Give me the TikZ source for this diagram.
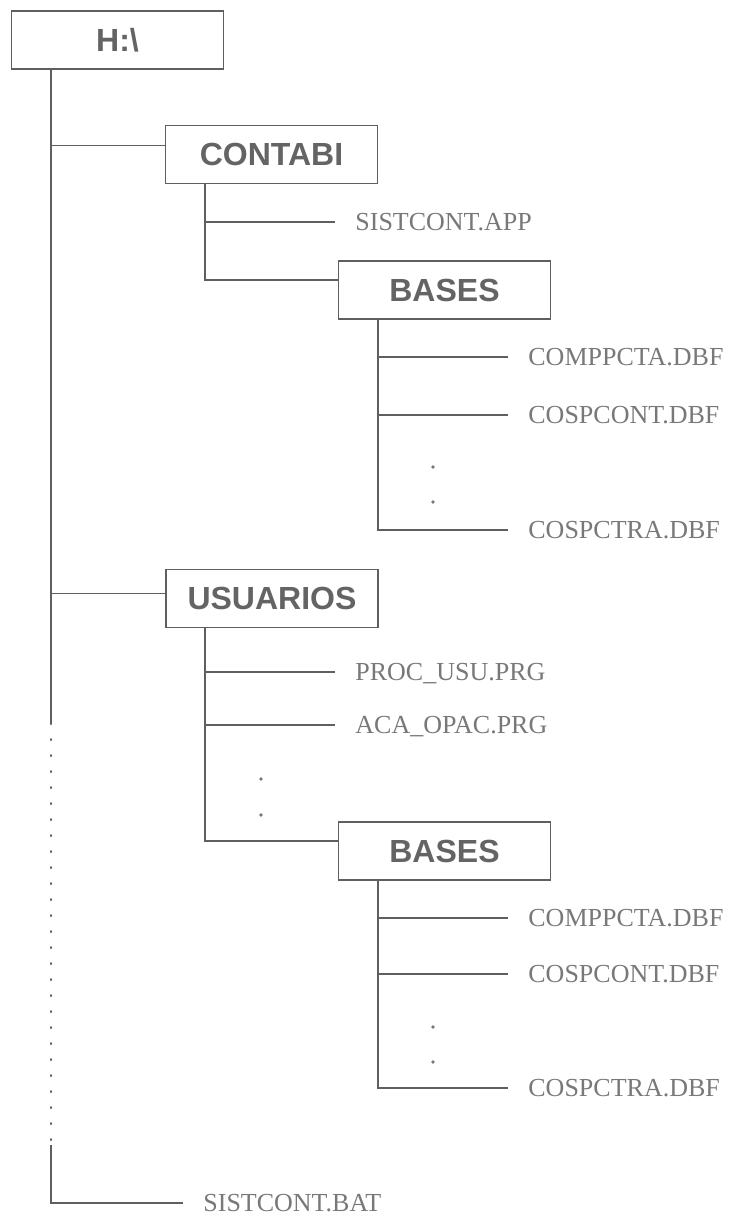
\documentclass[tikz,border=0pt]{standalone}
\usepackage{fontspec}
\setmainfont{Liberation Serif}
\newfontfamily\dirfont{Liberation Sans}
\usetikzlibrary{positioning, calc}
\definecolor{scanline}{RGB}{95, 95, 95}
\definecolor{scantext}{RGB}{100, 100, 100}
\definecolor{filetext}{RGB}{120, 120, 120}

\begin{document}
\begin{tikzpicture}[
    x=0.5pt, y=-0.5pt,
    dirbox/.style={draw=scanline, line width=0.9pt, minimum width=106pt, minimum height=29pt,
      font=\dirfont\bfseries\fontsize{16}{19}\selectfont, text=scantext},
    file/.style={anchor=west, inner xsep=10pt, inner ysep=0pt, text height=8.6pt, text depth=0pt,
      font=\fontsize{13}{15}\selectfont, text=filetext},
    tree/.style={draw=scanline, line width=0.9pt},
    gap/.style={tree, line cap=round, dash pattern=on 0.6pt off 7.4pt},
  ]
  \useasboundingbox (0,0) rectangle (729,1215);

  % folders
  \node[dirbox] (root) at (117.5,40) {H:\textbackslash};
  \node[dirbox] (contabi) at (271.5,154.5) {CONTABI};
  \node[dirbox] (cbases) at (444.5,290) {BASES};
  \node[dirbox] (usuarios) at (272,598.5) {USUARIOS};
  \node[dirbox] (ubases) at (444.5,851) {BASES};

  % files
  \node[file] (capp) at (335,222) {SISTCONT.APP};
  \node[file] (ccomp) at (508,357) {COMPPCTA.DBF};
  \node[file] (ccont) at (508,415) {COSPCONT.DBF};
  \node[file] (cctra) at (508,530) {COSPCTRA.DBF};
  \node[file] (uproc) at (335,672) {PROC\_USU.PRG};
  \node[file] (uaca) at (335,725) {ACA\_OPAC.PRG};
  \node[file] (ucomp) at (508,918) {COMPPCTA.DBF};
  \node[file] (ucont) at (508,974) {COSPCONT.DBF};
  \node[file] (uctra) at (508,1088) {COSPCTRA.DBF};
  \node[file] (bat) at (183,1203) {SISTCONT.BAT};

  % trunks
  \coordinate (rt) at ([xshift=20pt]root.south west);
  \coordinate (ct) at ([xshift=20pt]contabi.south west);
  \coordinate (cbt) at ([xshift=20pt]cbases.south west);
  \coordinate (ut) at ([xshift=20pt]usuarios.south west);
  \coordinate (ubt) at ([xshift=20pt]ubases.south west);
  \coordinate (gapA) at (rt |- 0,723);
  \coordinate (gapB) at (rt |- 0,1145);

  \draw[tree] (rt) |- ([yshift=4.5pt]contabi.west);
  \draw[tree] (rt) |- ([yshift=2.5pt]usuarios.west);
  \draw[tree] (rt) -- (gapA);
  \draw[gap] (gapA) -- (gapB);
  \draw[tree] (gapB) |- (bat.west);

  \draw[tree] (ct) |- (capp.west);
  \draw[tree] (ct) |- ([yshift=5pt]cbases.west);
  \draw[tree] (cbt) |- (ccomp.west);
  \draw[tree] (cbt) |- (ccont.west);
  \draw[tree] (cbt) |- (cctra.west);

  \draw[tree] (ut) |- (uproc.west);
  \draw[tree] (ut) |- (uaca.west);
  \draw[tree] (ut) |- ([yshift=5pt]ubases.west);
  \draw[tree] (ubt) |- (ucomp.west);
  \draw[tree] (ubt) |- (ucont.west);
  \draw[tree] (ubt) |- (uctra.west);

  % elided entries
  \foreach \px/\py in {433/467, 433/502, 261/779, 261/815, 433/1027, 433/1062}
    \fill[filetext] (\px,\py) circle (0.9pt);
\end{tikzpicture}
\end{document}
